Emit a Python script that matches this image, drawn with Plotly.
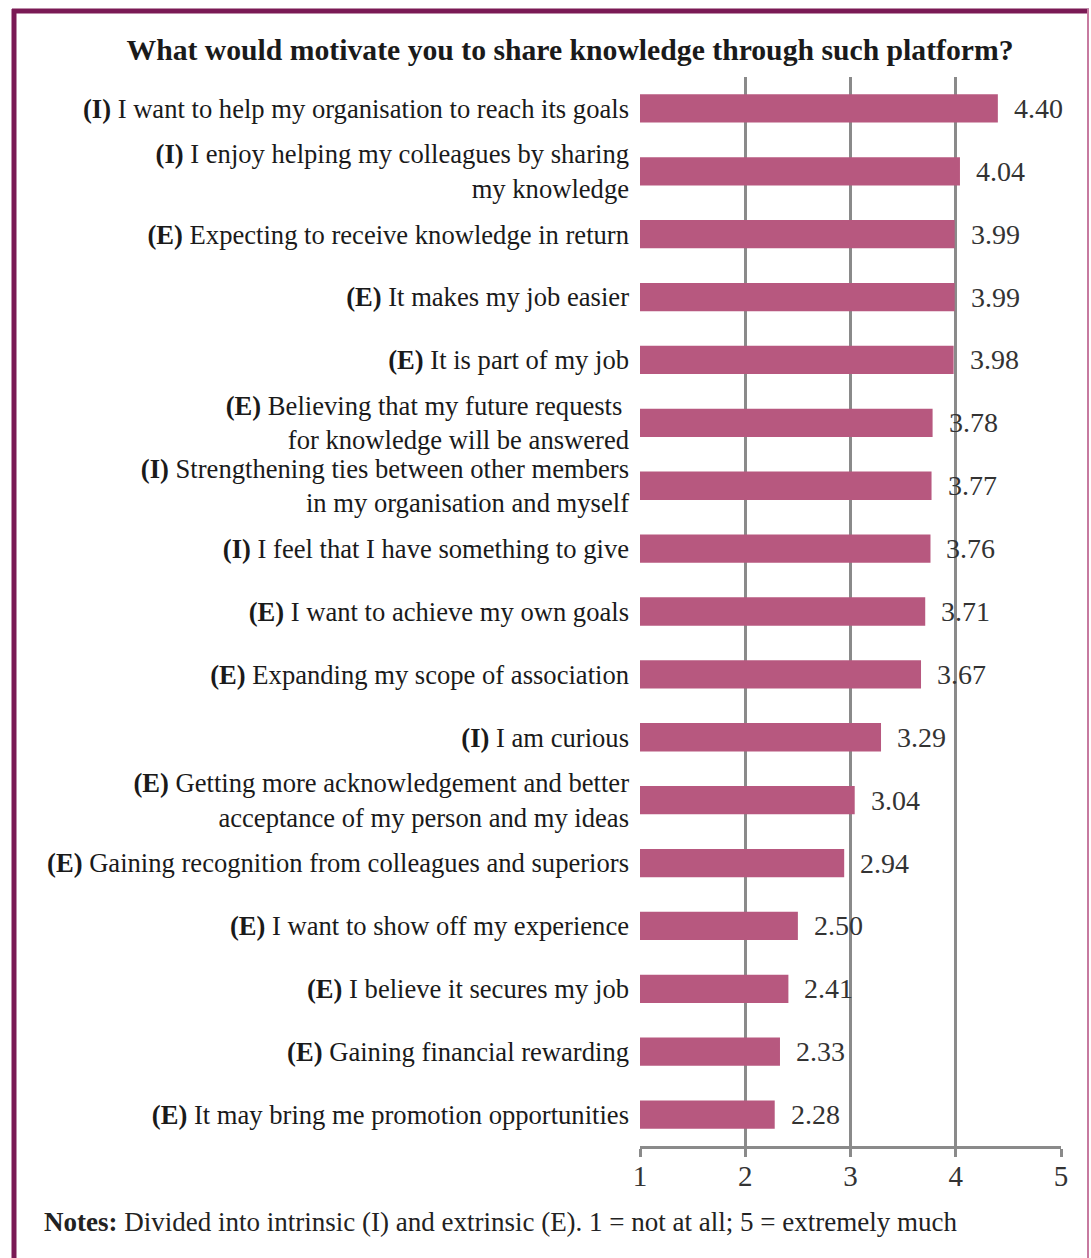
import plotly.graph_objects as go

prefixes = ["I", "I", "E", "E", "E", "E", "I", "I", "E", "E", "I", "E", "E", "E", "E", "E", "E"]
statements = [
    "I want to help my organisation to reach its goals",
    "I enjoy helping my colleagues by sharing<br>my knowledge",
    "Expecting to receive knowledge in return",
    "It makes my job easier",
    "It is part of my job",
    "Believing that my future requests <br>for knowledge will be answered",
    "Strengthening ties between other members<br>in my organisation and myself",
    "I feel that I have something to give",
    "I want to achieve my own goals",
    "Expanding my scope of association",
    "I am curious",
    "Getting more acknowledgement and better<br>acceptance of my person and my ideas",
    "Gaining recognition from colleagues and superiors",
    "I want to show off my experience",
    "I believe it secures my job",
    "Gaining financial rewarding",
    "It may bring me promotion opportunities",
]
values = [4.40, 4.04, 3.99, 3.99, 3.98, 3.78, 3.77, 3.76, 3.71, 3.67, 3.29, 3.04, 2.94, 2.50, 2.41, 2.33, 2.28]
x_ticks = [1, 2, 3, 4, 5]

title_text = "What would motivate you to share knowledge through such platform?"
notes_text = "<b>Notes:</b> Divided into intrinsic (I) and extrinsic (E). 1 = not at all; 5 = extremely much"

labels = [f"<b>({p})</b> {s}" for p, s in zip(prefixes, statements)]
positions = list(range(len(values)))

SERIF = "Liberation Serif, Times New Roman, serif"
W, H = 1091, 1258
L, R, T, B = 640, 1061, 77, 1146

def px_x(px):
    return (px - L) / (R - L)

def px_y(py):
    return (B - py) / (B - T)

fig = go.Figure()
fig.add_trace(go.Bar(
    x=values, y=positions, orientation="h", width=0.45,
    marker=dict(color="#B7587F", line=dict(width=0)),
    hoverinfo="x+y",
))

for v, p in zip(values, positions):
    fig.add_annotation(x=v, y=p, text=f"{v:.2f}", showarrow=False,
                       xanchor="left", yanchor="middle", xshift=14,
                       font=dict(family=SERIF, size=28, color="#333333"))

fig.add_annotation(xref="paper", yref="paper", x=px_x(42), y=px_y(1222),
                   text=notes_text, showarrow=False, xanchor="left", yanchor="middle",
                   font=dict(family=SERIF, size=27, color="#222222"))

# frame
frame_dark = "#7A1A55"
fig.add_shape(type="line", xref="paper", yref="paper", x0=px_x(12), x1=px_x(1089),
              y0=px_y(11), y1=px_y(11), line=dict(color=frame_dark, width=5), layer="above")
fig.add_shape(type="line", xref="paper", yref="paper", x0=px_x(14), x1=px_x(14),
              y0=px_y(9), y1=px_y(1262), line=dict(color=frame_dark, width=5), layer="above")
fig.add_shape(type="line", xref="paper", yref="paper", x0=px_x(1088), x1=px_x(1088),
              y0=px_y(9), y1=px_y(1262), line=dict(color="#C77AA0", width=2), layer="above")

fig.update_layout(
    width=W, height=H,
    margin=dict(l=L, r=W - R, t=T, b=H - B, pad=0),
    paper_bgcolor="white", plot_bgcolor="white",
    showlegend=False,
    title=dict(text=f"<b>{title_text}</b>", xref="container", yref="container",
               x=570 / W, y=1 - 50 / H, xanchor="center", yanchor="middle",
               font=dict(family=SERIF, size=29.7, color="#1a1a1a")),
    xaxis=dict(range=[1, 5], tickvals=x_ticks, ticktext=[str(t) for t in x_ticks],
               showgrid=True, gridcolor="#8a8a8a", gridwidth=3,
               showline=True, linecolor="#8a8a8a", linewidth=3,
               ticks="outside", ticklen=8, tickwidth=3, tickcolor="#8a8a8a",
               ticklabelstandoff=-6,
               zeroline=False, fixedrange=True,
               tickfont=dict(family=SERIF, size=29, color="#333333")),
    yaxis=dict(range=[16.5, -0.5], tickvals=positions, ticktext=labels,
               showgrid=False, zeroline=False, showline=False, ticks="",
               ticklabelstandoff=10, fixedrange=True,
               tickfont=dict(family=SERIF, size=26.6, color="#1a1a1a")),
)

fig.write_html("out.html")
